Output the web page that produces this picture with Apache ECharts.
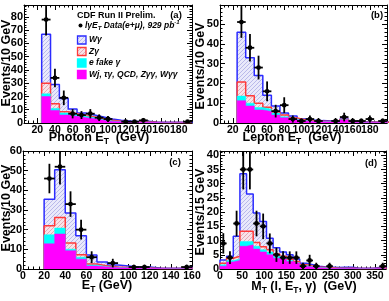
<!DOCTYPE html>
<html><head><meta charset="utf-8">
<script src="https://cdn.jsdelivr.net/npm/echarts@6/dist/echarts.min.js"></script>
<style>html,body{margin:0;padding:0;background:#fff}#c{width:389px;height:301px}</style>
</head><body><div id="c"></div>
<script>
// ---------- Panel (a): Photon ET ----------
const aBinLo = 25, aBinW = 10;
const aWg    = [37, 14.5, 10, 3.5, 2, 1.5, 1.5, 1, 0.7, 0.5, 0.4, 0.5, 0.3, 0.2, 0.2, 0.2, 0.4];
const aZg    = [8, 3.5, 1, 0.5, 0.5, 0.5, 0.5, 0.4, 0.2, 0.2, 0.2, 0.2, 0.1, 0.1, 0.05, 0.05, 0.1];
const aEfake = [2, 1.5, 1.5, 1.5, 1, 0.8, 0.5, 0.4, 0.2, 0.2, 0.1, 0.1, 0.1, 0.05, 0.05, 0.05, 0.05];
const aOther = [20, 9.5, 6, 5, 4, 3.2, 2, 1.2, 0.9, 0.6, 0.5, 0.5, 0.3, 0.25, 0.2, 0.2, 0.25];
const aDataX = [30, 40, 50, 60, 70, 80, 90, 100, 120, 130, 140, 190];
const aDataY = [78, 34, 19, 7, 6, 7, 4, 3, 1, 1, 2, 1];
const aDataE = [12, 7, 5.5, 3.5, 3, 3.5, 2.5, 2.2, 1.2, 1.2, 1.8, 1.2];

// ---------- Panel (b): Lepton ET ----------
const bBinLo = 25, bBinW = 10;
const bWg    = [25.1, 19.2, 14, 6, 3.1, 1, 1, 0.5, 0.4, 0.3, 0.3, 0.2, 0.2, 0.2, 0.2, 0.15, 0.15, 0.15];
const bZg    = [7.1, 3.8, 2.2, 1, 0.5, 0.8, 0.5, 0.3, 0.2, 0.2, 0.1, 0.1, 0.2, 0.1, 0.05, 0.05, 0.05, 0.05];
const bEfake = [2.3, 1.4, 1.2, 1.2, 1, 0.6, 0.4, 0.2, 0.1, 0.1, 0.1, 0.1, 0.1, 0.05, 0.05, 0.05, 0.05, 0.05];
const bOther = [11.3, 8.6, 6.6, 5.8, 4, 2.6, 1.6, 1, 0.8, 0.6, 0.5, 0.4, 1.5, 0.35, 0.3, 0.25, 0.25, 0.25];
const bDataX = [30, 40, 50, 60, 70, 80, 90, 100, 110, 120, 140, 150, 160, 170, 180, 195];
const bDataY = [51, 38, 28, 16, 6, 9, 2, 1, 2, 1, 1, 3, 1, 1, 2, 1];
const bDataE = [8, 7, 6, 5, 3.2, 4, 1.8, 1.2, 1.8, 1.2, 1.2, 2.2, 1.2, 1.2, 1.8, 1.2];

// ---------- Panel (c): missing ET ----------
const cBinLo = 20, cBinW = 10;
const cWg    = [13.5, 24.3, 15.3, 9.6, 4.6, 2, 1, 0.7, 0.4, 0.5, 0.2, 0.15, 0.15, 0.4];
const cZg    = [4.6, 5.4, 3.1, 1.3, 0.5, 0.3, 0.2, 0.2, 0.1, 0.1, 0.05, 0.05, 0.05, 0.1];
const cEfake = [4.6, 3, 0.8, 1, 0.5, 0.2, 0.2, 0.1, 0.1, 0.05, 0.05, 0.05, 0.05, 0.1];
const cOther = [12.8, 17.8, 9.3, 5, 1.5, 1, 0.6, 0.5, 0.4, 0.35, 0.2, 0.15, 0.15, 0.4];
const cDataX = [25, 35, 45, 55, 65, 85, 105, 115, 155];
const cDataY = [46, 52, 33, 20, 6, 3, 1, 1, 1];
const cDataE = [7.5, 9, 6.5, 5, 3, 2.2, 1.2, 1.2, 1.2];

// ---------- Panel (d): MT(l, ET, gamma) ----------
const dBinLo = 0, dBinW = 15;
const dWg    = [1.2, 0.7, 7, 20.2, 13.1, 10.4, 8.9, 4, 2.2, 1.5, 1.5, 0.9, 0.5, 0.5, 0.3, 0.2, 0.2, 0.2, 0.3, 0.3, 0.1, 0.1, 0.1, 0.2, 0.3];
const dZg    = [0.5, 0.8, 1, 3.6, 3.6, 1.3, 1, 0.8, 0.8, 0.5, 0.5, 0.4, 0.3, 0.2, 0.2, 0.1, 0.1, 0.05, 0.05, 0.1, 0.05, 0.05, 0.05, 0.1, 0.15];
const dEfake = [0.5, 0.5, 0.5, 1.7, 1.2, 1, 0.8, 1, 0.7, 0.5, 0.4, 0.2, 0.2, 0.1, 0.1, 0.1, 0.05, 0.05, 0.05, 0.05, 0.05, 0.05, 0.05, 0.05, 0.05];
const dOther = [1, 2.5, 3, 8, 8.5, 7, 6, 5, 3.8, 3.5, 2.6, 2, 1, 0.7, 0.4, 0.3, 0.25, 0.2, 0.2, 0.15, 0.1, 0.1, 0.1, 0.15, 0.15];
const dDataX = [7.5, 22.5, 37.5, 52.5, 67.5, 82.5, 97.5, 112.5, 127.5, 142.5, 157.5, 172.5, 187.5, 202.5, 217.5, 247.5, 367.5];
const dDataY = [9, 4, 16, 35, 35, 16, 15, 9, 5, 4, 4, 4, 1, 3, 1, 1, 1];
const dDataE = [3.6, 2.2, 4.5, 7, 7, 4.5, 4.5, 3.5, 2.5, 2.2, 2.2, 2.2, 1.2, 2, 1.2, 1.2, 1.2];

// ---------- Labels ----------
const legendTitle = 'CDF Run II Prelim.';
const legendNames = ['Wγ', 'Zγ', 'e fake γ', 'Wj, τγ, QCD, Zγγ, Wγγ'];
const panelTags = ['(a)', '(b)', '(c)', '(d)'];
const yTitles = ['Events/10 GeV', 'Events/10 GeV', 'Events/10 GeV', 'Events/15 GeV'];

const FONT = '"Liberation Sans", Arial, Helvetica, sans-serif';

function pattern(bg, fg) {
  const c = document.createElement('canvas');
  c.width = 4; c.height = 4;
  const g = c.getContext('2d');
  g.fillStyle = bg; g.fillRect(0, 0, 4, 4);
  g.fillStyle = fg;
  g.fillRect(0, 0, 1, 1); g.fillRect(2, 2, 1, 1);
  g.fillRect(1, 3, 1, 1); g.fillRect(3, 1, 1, 1);
  return { image: c, repeat: 'repeat' };
}
const blueFill = pattern('#e9e9fb', '#b9b9ea');
const redFill = pattern('#f7e3e8', '#e4a8b8');

function cumsum(layers) {
  const out = []; let acc = layers[0].map(() => 0);
  layers.forEach(l => { acc = acc.map((v, i) => v + l[i]); out.push(acc); });
  return out; // [other, other+efake, +Zg, +Wg]
}
function histPts(lo, w, vals) {
  const pts = [[lo, 0]];
  vals.forEach((v, i) => { pts.push([lo + i * w, v]); pts.push([lo + (i + 1) * w, v]); });
  pts.push([lo + vals.length * w, 0]);
  return pts;
}

const panels = [
  { lo: aBinLo, w: aBinW, layers: [aOther, aEfake, aZg, aWg], dx: aDataX, dy: aDataY, de: aDataE,
    grid: { left: 24, top: 5, width: 168, height: 118 }, xmin: 5, xmax: 195, xstep: 20, xsplit: 9, xminor: 4,
    ymax: 89, ystep: 10, yminor: 5 },
  { lo: bBinLo, w: bBinW, layers: [bOther, bEfake, bZg, bWg], dx: bDataX, dy: bDataY, de: bDataE,
    grid: { left: 220, top: 5, width: 167, height: 118 }, xmin: 5, xmax: 200, xstep: 20, xsplit: 9, xminor: 4,
    ymax: 59.6, ystep: 10, yminor: 5 },
  { lo: cBinLo, w: cBinW, layers: [cOther, cEfake, cZg, cWg], dx: cDataX, dy: cDataY, de: cDataE,
    grid: { left: 23, top: 151, width: 169, height: 118 }, xmin: 0, xmax: 160, xstep: 20, xinterval: 20, xminor: 4,
    ymax: 60, ystep: 10, yminor: 5 },
  { lo: dBinLo, w: dBinW, layers: [dOther, dEfake, dZg, dWg], dx: dDataX, dy: dDataY, de: dDataE,
    grid: { left: 220, top: 151, width: 167, height: 118 }, xmin: 0, xmax: 375, xstep: 50, xinterval: 50, xminor: 5,
    ymax: 41.5, ystep: 5, yminor: 5 }
];

const grids = [], xAxes = [], yAxes = [], series = [];
const tickStyle = { color: '#000', width: 1 };
panels.forEach((p, g) => {
  grids.push(Object.assign({ containLabel: false }, p.grid));
  const lbl = step => ({ color: '#000', fontWeight: 'bold', fontSize: 11, fontFamily: FONT,
    formatter: v => (Math.abs(v / step - Math.round(v / step)) < 1e-6 ? String(Math.round(v)) : '') });
  ['bottom', 'top'].forEach(pos => {
    const ax = { type: 'value', gridIndex: g, position: pos, min: p.xmin, max: p.xmax,
      axisLine: { show: true, onZero: false, lineStyle: tickStyle },
      axisTick: { show: true, inside: true, length: 5, lineStyle: tickStyle },
      minorTick: { show: true, splitNumber: p.xminor, length: 2.5, lineStyle: tickStyle },
      splitLine: { show: false },
      axisLabel: pos === 'bottom' ? Object.assign(lbl(p.xstep), { margin: 2, fontSize: 10.5 }) : { show: false } };
    if (p.xinterval) ax.interval = p.xinterval; else ax.splitNumber = p.xsplit;
    xAxes.push(ax);
  });
  ['left', 'right'].forEach(pos => {
    yAxes.push({ type: 'value', gridIndex: g, position: pos, min: 0, max: p.ymax, interval: p.ystep,
      axisLine: { show: true, onZero: false, lineStyle: tickStyle },
      axisTick: { show: true, inside: true, length: 5, lineStyle: tickStyle },
      minorTick: { show: true, splitNumber: p.yminor, length: 2.5, lineStyle: tickStyle },
      splitLine: { show: false },
      axisLabel: pos === 'left' ? Object.assign(lbl(p.ystep), { margin: 1 }) : { show: false } });
  });
  const cum = cumsum(p.layers);
  const styles = [
    { name: legendNames[0], line: '#2b2bff', fill: blueFill, lw: 1.5, z: 1, d: cum[3] },
    { name: legendNames[1], line: '#ff3a3a', fill: redFill, lw: 1.5, z: 2, d: cum[2] },
    { name: legendNames[2], line: '#00ffff', fill: '#00ffff', lw: 0.5, z: 3, d: cum[1] },
    { name: legendNames[3], line: '#ff00ff', fill: '#ff00ff', lw: 0.5, z: 4, d: cum[0] }
  ];
  styles.forEach(s => series.push({
    type: 'line', name: s.name, xAxisIndex: 2 * g, yAxisIndex: 2 * g, z: s.z,
    data: histPts(p.lo, p.w, s.d), symbol: 'none', showSymbol: false, clip: true,
    lineStyle: { color: s.line, width: s.lw }, areaStyle: { color: s.fill, opacity: 1 },
    animation: false, silent: true
  }));
  const hw = p.w / 2;
  series.push({
    type: 'custom', name: 'Data', xAxisIndex: 2 * g, yAxisIndex: 2 * g, z: 10, clip: true, animation: false,
    data: p.dx.map((x, i) => [x, p.dy[i], hw, p.de[i]]),
    renderItem: (params, api) => {
      const x = api.value(0), y = api.value(1), dx = api.value(2), dy = api.value(3);
      const c = api.coord([x, y]), l = api.coord([x - dx, y]), r = api.coord([x + dx, y]);
      const t = api.coord([x, y + dy]), b = api.coord([x, Math.max(0, y - dy)]);
      const st = { stroke: '#000', lineWidth: 1.8 };
      return { type: 'group', children: [
        { type: 'line', shape: { x1: l[0], y1: l[1], x2: r[0], y2: r[1] }, style: st },
        { type: 'line', shape: { x1: t[0], y1: t[1], x2: b[0], y2: b[1] }, style: st },
        { type: 'circle', shape: { cx: c[0], cy: c[1], r: 2.4 }, style: { fill: '#000' } }
      ] };
    }
  });
});

const subRich = {
  m: { fontSize: 12.5, fontWeight: 'bold', fontFamily: FONT, lineHeight: 17, verticalAlign: 'middle' },
  s: { fontSize: 8.5, fontWeight: 'bold', fontFamily: FONT, lineHeight: 9, verticalAlign: 'bottom' }
};
function xTitle(x, y, rich) {
  return { type: 'text', x: x, y: y, style: { text: rich, rich: subRich, align: 'center', verticalAlign: 'middle', fill: '#000' } };
}
function yTitle(x, y, t) {
  return { type: 'text', x: x, y: y, rotation: Math.PI / 2,
    style: { text: t, align: 'center', verticalAlign: 'middle', fill: '#000', font: 'bold 12.5px ' + FONT } };
}
function tag(x, y, t) {
  return { type: 'text', x: x, y: y, style: { text: t, align: 'center', verticalAlign: 'middle', fill: '#000', font: 'bold 9.5px ' + FONT } };
}
const legRich = {
  i: { fontSize: 8.5, fontWeight: 'bold', fontStyle: 'italic', fontFamily: FONT, lineHeight: 12, verticalAlign: 'middle' },
  s: { fontSize: 6, fontWeight: 'bold', fontStyle: 'italic', fontFamily: FONT, lineHeight: 6, verticalAlign: 'bottom' },
  u: { fontSize: 6, fontWeight: 'bold', fontStyle: 'italic', fontFamily: FONT, lineHeight: 6, verticalAlign: 'top' }
};
const legBoxes = [
  { y: 36, stroke: '#2b2bff', fill: blueFill },
  { y: 47.5, stroke: '#ff3a3a', fill: redFill },
  { y: 59, stroke: '#00ffff', fill: '#00ffff' },
  { y: 70.5, stroke: '#ff00ff', fill: '#ff00ff' }
];
const graphic = [
  xTitle(99, 138, '{m|Photon E}{s|T}{m|  (GeV)}'),
  xTitle(292, 138, '{m|Lepton E}{s|T}{m|  (GeV)}'),
  xTitle(107, 286, '{m|E}{s|T}{m| (GeV)}'),
  xTitle(304, 287, '{m|M}{s|T}{m| (l, E}{s|T}{m|, γ)  (GeV)}'),
  yTitle(6.5, 63, yTitles[0]), yTitle(201, 66, yTitles[1]), yTitle(6.5, 208, yTitles[2]), yTitle(201, 212, yTitles[3]),
  tag(176, 15, panelTags[0]), tag(377, 15, panelTags[1]), tag(175, 162, panelTags[2]), tag(371, 163, panelTags[3]),
  { type: 'text', x: 77, y: 15.5, style: { text: legendTitle, verticalAlign: 'middle', fill: '#000', font: 'bold 9px ' + FONT } },
  { type: 'circle', shape: { cx: 80.5, cy: 25.5, r: 2 }, style: { fill: '#000' } },
  { type: 'text', x: 85, y: 25.5, style: { text: '{i|lγE}{s|T}{i| Data(e+μ), 929 pb}{u|-1}', rich: legRich, verticalAlign: 'middle', fill: '#000' } }
];
legBoxes.forEach((b, i) => {
  graphic.push({ type: 'rect', shape: { x: 77.5, y: b.y, width: 8.5, height: 8 }, style: { fill: b.fill, stroke: b.stroke, lineWidth: 1.3 } });
  graphic.push({ type: 'text', x: 89, y: b.y + 4, style: { text: '{i|' + legendNames[i] + '}', rich: legRich, verticalAlign: 'middle', fill: '#000' } });
});

const chart = echarts.init(document.getElementById('c'), null, { renderer: 'canvas' });
chart.setOption({
  animation: false, backgroundColor: '#fff',
  grid: grids, xAxis: xAxes, yAxis: yAxes, series: series, graphic: graphic
});
</script></body></html>
